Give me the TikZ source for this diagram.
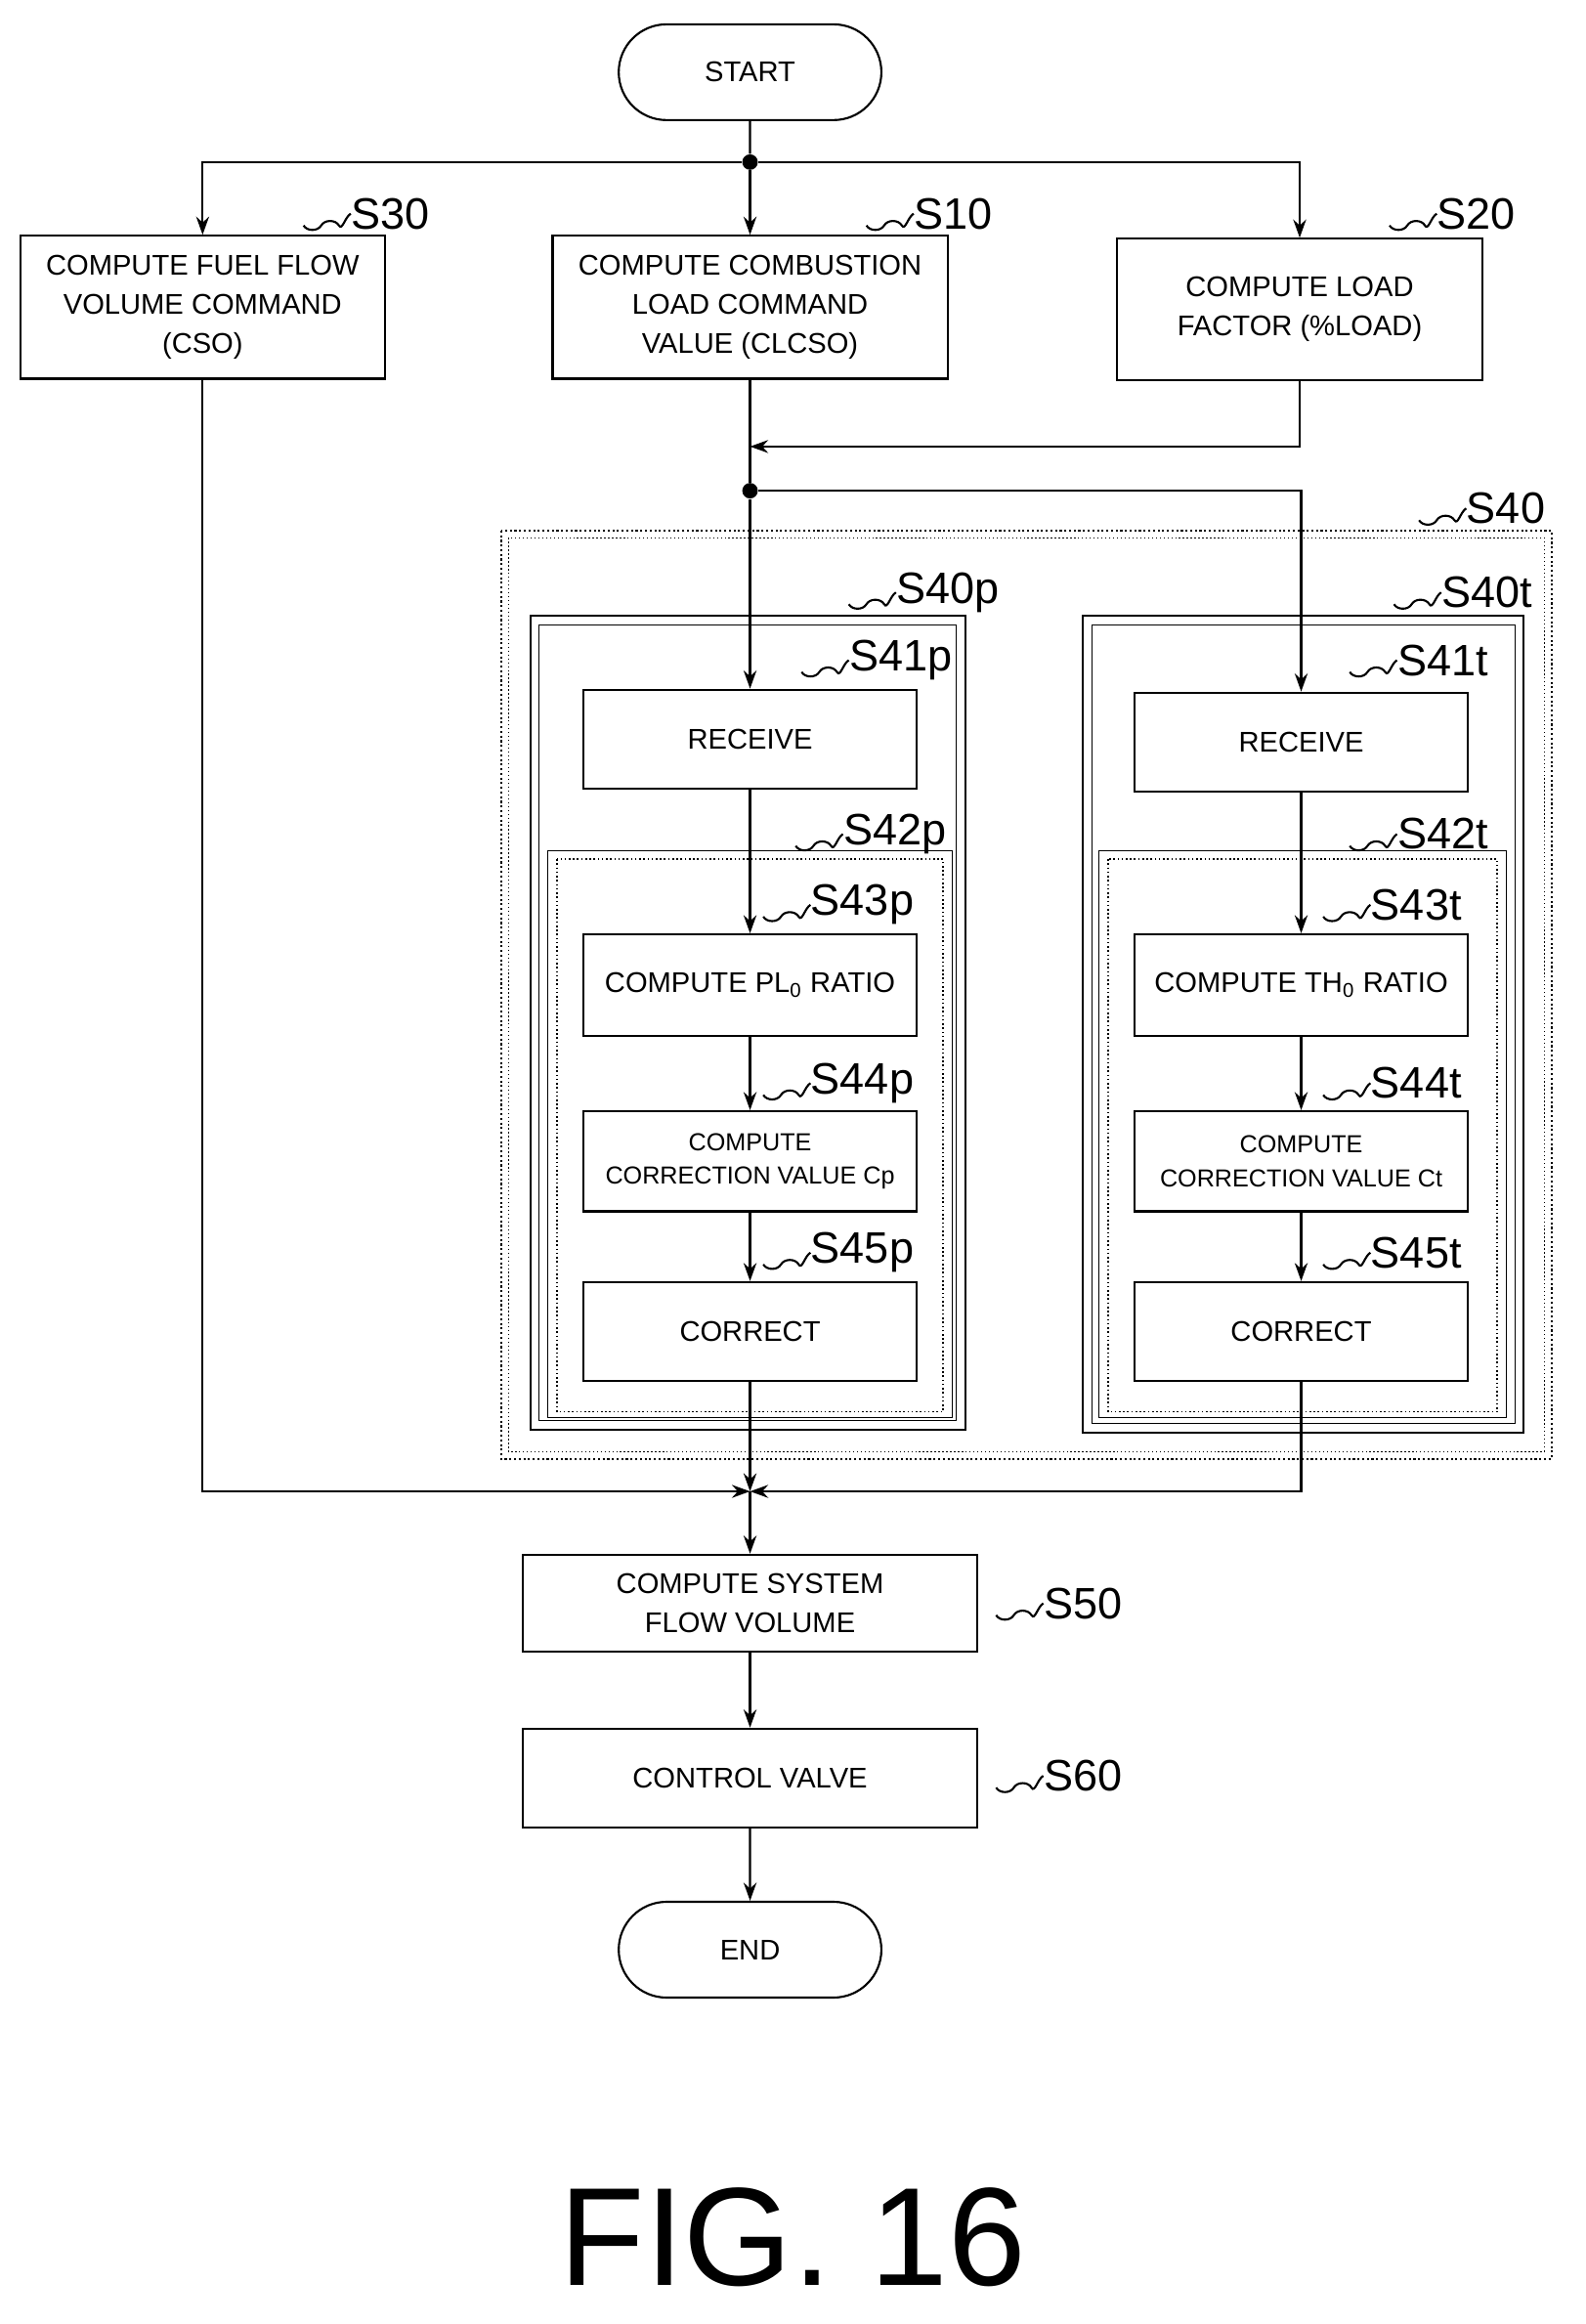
\documentclass[tikz,border=0pt]{standalone}
\usepackage{fontspec}
\setmainfont{Liberation Sans}
\usetikzlibrary{arrows.meta,shapes.misc}
\begin{document}
\begin{tikzpicture}[x=0.02cm,y=-0.02cm,
  box/.style={draw,line width=0.8pt,align=center,inner sep=1pt,font=\fontsize{11}{15}\selectfont},
  term/.style={draw,line width=0.8pt,rounded rectangle,minimum width=3.8cm,minimum height=1.3cm,font=\fontsize{11}{14}\selectfont},
  lab/.style={anchor=west,inner sep=0pt,font=\fontsize{17}{17}\selectfont},
  ar/.style={line width=0.8pt,-{Stealth[length=7pt,width=5pt]}},
  ln/.style={line width=0.8pt},
  dot/.style={circle,fill,inner sep=0pt,minimum size=6pt}]
\useasboundingbox (0,0) rectangle (1076,1577);
\newcommand\bx[6]{\node[box,minimum width={(#4-#2)*0.02cm},minimum height={(#5-#3)*0.02cm}] (#1) at ({(#2+#4)/2},{(#3+#5)/2}) {#6};}
\newcommand\lb[4]{\node[lab] (#1) at (#2,#3) {#4}; \draw[ln] (#1.west) ++(-32,8) to[out=-60,in=-120] ++(12,0) to[out=60,in=120] ++(12,0) to[out=-60,in=-150] (#1.west);}
% terminals
\node[term] (start) at (509,49) {START};
\node[term] (end) at (509,1323) {END};
% top boxes
\bx{s30}{14}{160}{261}{257}{COMPUTE FUEL FLOW\\VOLUME COMMAND\\(CSO)}
\bx{s10}{375}{160}{643}{257}{COMPUTE COMBUSTION\\LOAD COMMAND\\VALUE (CLCSO)}
\bx{s20}{758}{162}{1006}{258}{COMPUTE LOAD\\FACTOR (\%LOAD)}
\lb{l30}{238}{145}{S30}
\lb{l10}{620}{145}{S10}
\lb{l20}{975}{145}{S20}
% group boxes
\draw[densely dotted,line width=0.8pt] (340,360) rectangle (1053,990);
\draw[densely dotted,line width=0.5pt] (345,365) rectangle (1048,985);
\lb{l40}{995}{345}{S40}
\draw[ln] (360,418) rectangle (655,970);
\draw[line width=0.4pt] (366,424) rectangle (649,964);
\draw[ln] (735,418) rectangle (1034,972);
\draw[line width=0.4pt] (741,424) rectangle (1028,966);
\lb{l40p}{608}{402}{S40p}
\lb{l40t}{978}{402}{S40t}
\draw[densely dotted,line width=0.6pt] (378,583) rectangle (640,958);
\draw[line width=0.4pt] (372,577) rectangle (646,962);
\draw[densely dotted,line width=0.6pt] (752,583) rectangle (1016,958);
\draw[line width=0.4pt] (746,577) rectangle (1022,962);
\lb{l42p}{572}{566}{S42p}
\lb{l42t}{948}{566}{S42t}
% p chain
\bx{s41p}{396}{468}{622}{535}{RECEIVE}
\bx{s43p}{396}{634}{622}{703}{COMPUTE PL\textsubscript{0} RATIO}
\node[box,minimum width=4.52cm,minimum height=1.36cm,font=\fontsize{9.5}{13}\selectfont] (s44p) at (509,788) {COMPUTE\\CORRECTION VALUE Cp};
\bx{s45p}{396}{870}{622}{937}{CORRECT}
\lb{l41p}{576}{448}{S41p}
\lb{l43p}{550}{614}{S43p}
\lb{l44p}{550}{735}{S44p}
\lb{l45p}{550}{850}{S45p}
% t chain
\bx{s41t}{770}{470}{996}{537}{RECEIVE}
\bx{s43t}{770}{634}{996}{703}{COMPUTE TH\textsubscript{0} RATIO}
\node[box,minimum width=4.52cm,minimum height=1.36cm,font=\fontsize{9.5}{13}\selectfont] (s44t) at (883,788) {COMPUTE\\CORRECTION VALUE Ct};
\bx{s45t}{770}{870}{996}{937}{CORRECT}
\lb{l41t}{948}{448}{S41t}
\lb{l43t}{930}{614}{S43t}
\lb{l44t}{930}{735}{S44t}
\lb{l45t}{930}{850}{S45t}
% bottom
\bx{s50}{355}{1055}{663}{1121}{COMPUTE SYSTEM\\FLOW VOLUME}
\bx{s60}{355}{1173}{663}{1240}{CONTROL VALVE}
\lb{l50}{708}{1088}{S50}
\lb{l60}{708}{1205}{S60}
\node[font=\fontsize{54}{54}\selectfont] (fig) at (538,1518) {FIG. 16};
% connectors
\node[dot] (j1) at (509,110) {};
\node[dot] (j2) at (509,333) {};
\coordinate (m20) at (509,303);
\coordinate (m) at (509,1012);
\draw[ln] (start) -- (j1);
\draw[ar] (j1) -- (s10);
\draw[ar] (j1) -| (s30);
\draw[ar] (j1) -| (s20);
\draw[ln] (s10) -- (j2);
\draw[ar] (s20.south) |- (m20);
\draw[ar] (j2) -- (s41p);
\draw[ar] (j2) -| (s41t);
\draw[ar] (s41p) -- (s43p);
\draw[ar] (s43p) -- (s44p);
\draw[ar] (s44p) -- (s45p);
\draw[ar] (s41t) -- (s43t);
\draw[ar] (s43t) -- (s44t);
\draw[ar] (s44t) -- (s45t);
\draw[ar] (s45p.south -| m) -- (m);
\draw[ar] (s30.south) |- (m);
\draw[ar] (s45t.south) |- (m);
\draw[ar] (m) -- (s50);
\draw[ar] (s50) -- (s60);
\draw[ar] (s60) -- (end);
\end{tikzpicture}
\end{document}
